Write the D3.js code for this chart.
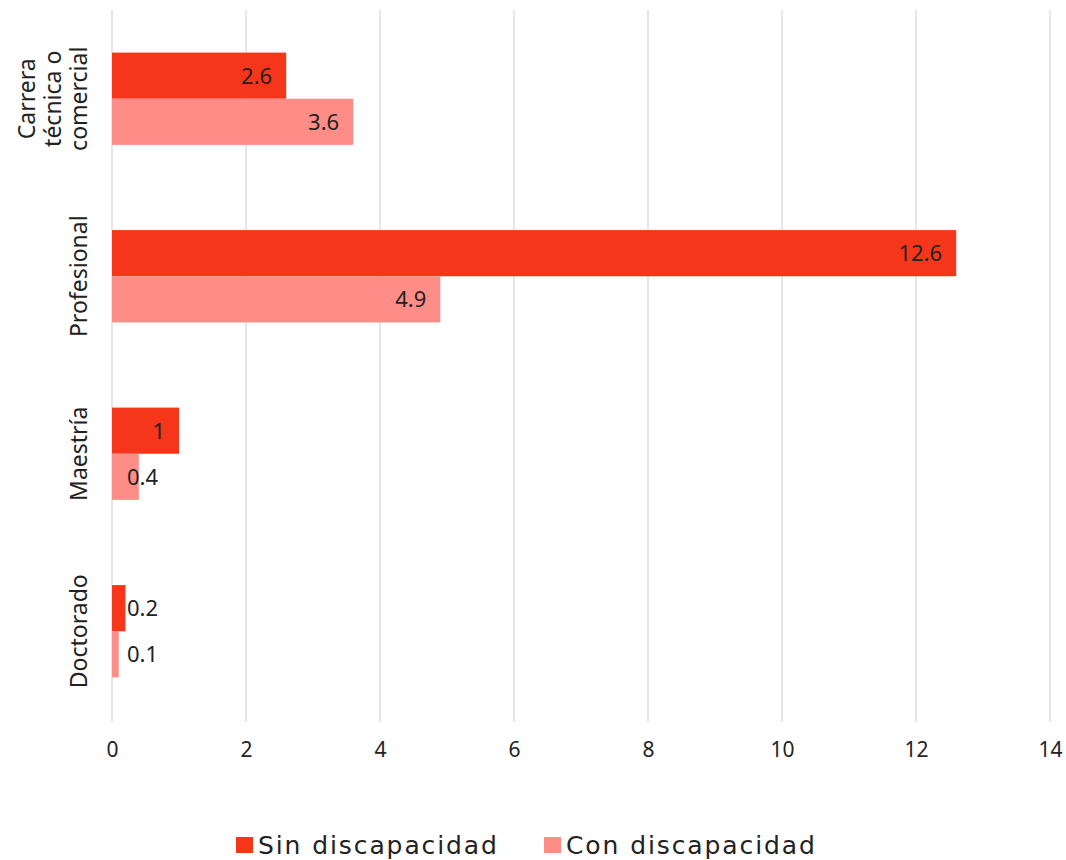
<!DOCTYPE html>
<html>
<head>
<meta charset="utf-8">
<script src="https://cdn.jsdelivr.net/npm/d3@7"></script>
<style>
  body { margin: 0; background: #fff; }
  text { font-family: 'Noto Sans', sans-serif; fill: #222; }
</style>
</head>
<body>
<script>
// data
const categories = ['Carrera técnica o comercial', 'Profesional', 'Maestría', 'Doctorado']
const categoryLines = [['Carrera', 'técnica o', 'comercial'], ['Profesional'], ['Maestría'], ['Doctorado']]
const series = ['Sin discapacidad', 'Con discapacidad']
const sinValues = [2.6, 12.6, 1, 0.2]
const conValues = [3.6, 4.9, 0.4, 0.1]
const xTicks = [0, 2, 4, 6, 8, 10, 12, 14]
const colors = ['#f5361a', '#ff8d87']

chart()

function chart() {
  const w = 1066
  const h = 860
  const margin = { top: 10, bottom: 140, left: 112, right: 16 }

  const svg = d3.select('body')
    .append('svg')
    .attr('width', w)
    .attr('height', h)

  const xScale = d3.scaleLinear()
    .domain([0, 14])
    .range([margin.left, w - margin.right])

  const yScale = d3.scaleBand()
    .domain(categories)
    .range([margin.top, h - margin.bottom])
    .paddingInner(0.48)
    .paddingOuter(0.24)

  const ySub = d3.scaleBand()
    .domain(series)
    .range([0, yScale.bandwidth()])

  // gridlines
  svg.append('g')
    .selectAll('line')
    .data(xTicks)
    .join('line')
    .attr('x1', d => xScale(d))
    .attr('x2', d => xScale(d))
    .attr('y1', margin.top)
    .attr('y2', h - margin.bottom + 2)
    .style('stroke', '#d9d9d9')
    .style('stroke-width', '1.3px')

  // x axis labels
  const xAxis = d3.axisBottom(xScale)
    .tickValues(xTicks)
    .tickSize(0)
    .tickPadding(22)

  const xg = svg.append('g')
    .attr('transform', `translate(0,${h - margin.bottom})`)
    .call(xAxis)
  xg.select('.domain').remove()
  xg.selectAll('text')
    .style('font-size', '21px')
    .style('font-family', "'Noto Sans', sans-serif")
    .style('fill', '#222')

  // bars
  const rows = categories.map((c, i) => ({
    cat: c,
    vals: [
      { s: series[0], v: sinValues[i] },
      { s: series[1], v: conValues[i] }
    ]
  }))

  const groups = svg.selectAll('g.cat')
    .data(rows)
    .join('g')
    .attr('class', 'cat')
    .attr('transform', d => `translate(0,${yScale(d.cat)})`)

  groups.selectAll('rect')
    .data(d => d.vals)
    .join('rect')
    .attr('x', xScale(0))
    .attr('y', d => ySub(d.s))
    .attr('width', d => xScale(d.v) - xScale(0))
    .attr('height', ySub.bandwidth())
    .style('fill', (d, i) => colors[i])

  // labels sit at the inside end, but never closer than 15px to the axis
  groups.selectAll('text.val')
    .data(d => d.vals)
    .join('text')
    .attr('class', 'val')
    .attr('y', d => ySub(d.s) + ySub.bandwidth() / 2)
    .attr('dy', '0.36em')
    .style('font-size', '22px')
    .text(d => d.v)
    .each(function(d) {
      const tw = this.getComputedTextLength()
      const x = Math.max(xScale(d.v) - 14 - tw, xScale(0) + 15)
      d3.select(this).attr('x', x).attr('text-anchor', 'start')
    })

  // category labels, rotated
  const lineH = 26
  svg.selectAll('text.cat')
    .data(rows)
    .join('text')
    .attr('class', 'cat')
    .attr('transform', d => `translate(87,${yScale(d.cat) + yScale.bandwidth() / 2}) rotate(-90)`)
    .attr('text-anchor', 'middle')
    .style('font-size', '23px')
    .each(function(d, i) {
      const lines = categoryLines[i]
      d3.select(this).selectAll('tspan')
        .data(lines)
        .join('tspan')
        .attr('x', 0)
        .attr('y', (l, j) => (j - (lines.length - 1)) * lineH)
        .text(l => l)
    })

  // legend
  const legend = svg.append('g')
    .attr('transform', `translate(0,845)`)
  const legX = [236, 544]
  series.forEach((s, i) => {
    legend.append('rect')
      .attr('x', legX[i])
      .attr('y', -8)
      .attr('width', 17)
      .attr('height', 16)
      .style('fill', colors[i])
    legend.append('text')
      .attr('x', legX[i] + 22)
      .attr('y', 0)
      .attr('dy', '0.36em')
      .style('font-family', "'DejaVu Sans', sans-serif")
      .style('font-size', '25px')
      .style('letter-spacing', '1.9px')
      .text(s)
  })
}
</script>
</body>
</html>
